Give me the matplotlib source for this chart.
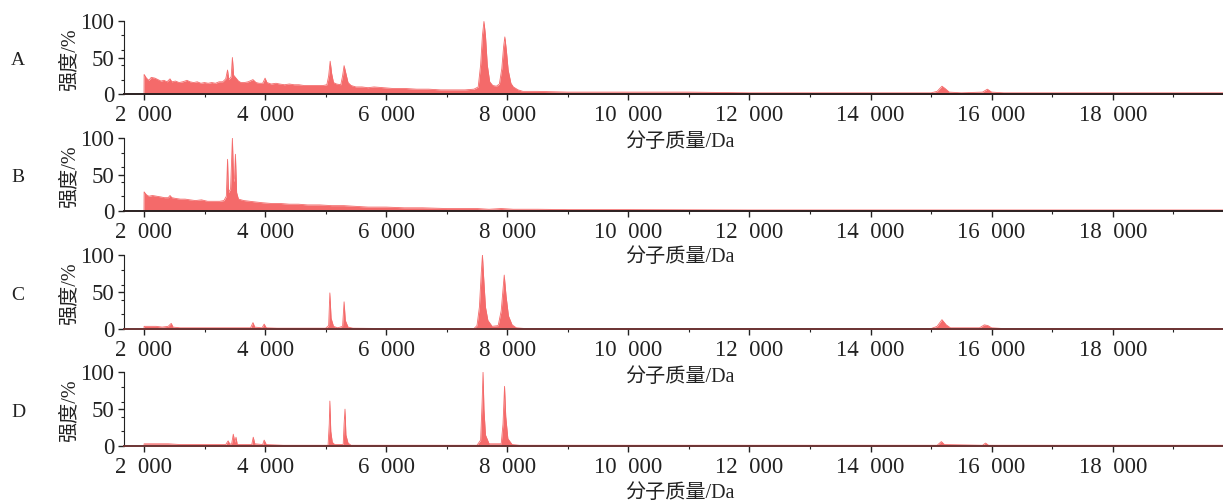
import matplotlib
matplotlib.use("Agg")
import matplotlib.pyplot as plt
from matplotlib.ticker import MultipleLocator, FuncFormatter

plt.rcParams['font.family'] = ['Liberation Serif', 'Noto Sans CJK SC']

# spectra: mass (Da) and relative intensity (%)
mass_a = [2000, 2002, 2040, 2080, 2120, 2180, 2230, 2280, 2330, 2380, 2430, 2460, 2520, 2580,
          2640, 2710, 2760, 2820, 2880, 2940, 3000, 3060, 3120, 3180, 3240, 3300, 3350, 3380,
          3400, 3440, 3460, 3480, 3520, 3560, 3600, 3660, 3720, 3800, 3850, 3900, 3960, 4000,
          4030, 4100, 4180, 4240, 4320, 4400, 4480, 4560, 4640, 4720, 4800, 4880, 4960, 5020,
          5050, 5075, 5100, 5130, 5180, 5250, 5280, 5305, 5330, 5370, 5420, 5500, 5600, 5700,
          5800, 5950, 6100, 6300, 6500, 6700, 6900, 7100, 7300, 7450, 7520, 7560, 7590, 7615,
          7640, 7670, 7710, 7760, 7820, 7870, 7910, 7940, 7960, 7985, 8015, 8060, 8100, 8180,
          8260, 8500, 9000, 9500, 10000, 11000, 12000, 13000, 14000, 15000, 15100, 15180,
          15230, 15300, 15500, 15850, 15930, 16000, 16200, 17000, 18000, 19000, 19820]
int_a = [0, 27, 22, 19, 23, 22, 20, 18, 19, 17, 21, 17, 18, 16,
         17, 19, 17, 16, 17, 15, 16, 15, 16, 15, 17, 17, 21, 33,
         20, 24, 50, 26, 22, 18, 16, 16, 17, 20, 16, 15, 15, 22,
         16, 14, 15, 14, 13, 14, 13, 13, 12, 12, 12, 12, 12, 13,
         25, 45, 28, 16, 14, 13, 25, 39, 30, 16, 12, 10, 10, 9,
         10, 9, 8, 8, 7, 7, 6, 6, 6, 7, 10, 40, 80, 99,
         80, 40, 17, 12, 11, 14, 35, 65, 78, 60, 33, 15, 10, 6,
         4, 4, 3, 3, 3, 3, 2, 2, 2, 2, 4, 11,
         8, 3, 2, 3, 7, 3, 2, 2, 2, 2, 2]

mass_b = [2000, 2002, 2040, 2080, 2140, 2210, 2280, 2340, 2400, 2430, 2460, 2520, 2600, 2680,
          2760, 2850, 2950, 3050, 3150, 3250, 3320, 3360, 3380, 3395, 3430, 3460, 3480, 3495,
          3510, 3530, 3560, 3650, 3750, 3850, 3960, 4100, 4250, 4400, 4550, 4700, 4900, 5100,
          5300, 5500, 5700, 6000, 6300, 6600, 7000, 7500, 7700, 7900, 8100, 8500, 9000, 10000,
          12000, 14000, 16000, 18000, 19820]
int_b = [0, 26, 22, 20, 21, 20, 19, 18, 18, 21, 18, 17, 16, 16,
         15, 14, 15, 13, 13, 13, 14, 20, 71, 25, 30, 100, 40, 45,
         78, 25, 16, 14, 13, 12, 11, 10, 10, 9, 9, 8, 8, 7,
         7, 6, 5, 5, 4, 4, 3, 3, 2, 3, 2, 2, 1.5, 1.5,
         1, 1, 1, 1, 1]

mass_c = [2000, 2002, 2100, 2200, 2300, 2400, 2450, 2480, 2600, 2800, 3000, 3200, 3400, 3600,
          3760, 3800, 3830, 3950, 3985, 4020, 4200, 4600, 5000, 5050, 5070, 5090, 5130, 5200,
          5280, 5305, 5325, 5370, 5450, 6000, 7000, 7450, 7500, 7540, 7570, 7590, 7610, 7640,
          7680, 7750, 7850, 7900, 7950, 7980, 8020, 8080, 8150, 8300, 10000, 15000, 15100,
          15180, 15250, 15320, 15800, 15880, 15940, 16000, 16200, 19820]
int_c = [0, 4, 4, 4, 3, 4, 8, 3, 2, 2, 2, 2, 2, 2,
         2, 9, 3, 2, 7, 2, 1.5, 1.5, 1.5, 5, 49, 15, 4, 2,
         4, 37, 12, 3, 1.5, 1, 1, 1, 5, 30, 75, 100, 70, 30,
         12, 4, 5, 25, 73, 45, 18, 6, 2, 1, 1, 1, 4,
         13, 6, 2, 2, 6, 5, 2, 1, 1]

mass_d = [2000, 2002, 2200, 2400, 2600, 3000, 3350, 3390, 3420, 3450, 3475, 3500, 3520, 3540,
          3780, 3805, 3830, 3960, 3985, 4020, 4300, 5040, 5060, 5070, 5085, 5110, 5150, 5290,
          5305, 5320, 5335, 5370, 5420, 7500, 7560, 7585, 7600, 7615, 7640, 7700, 7900, 7930,
          7955, 7975, 8010, 8080, 8200, 15100, 15170, 15220, 15850, 15900, 15950, 19820]
int_d = [0, 3, 3, 3, 2, 2, 2, 7, 2, 4, 16, 5, 12, 2,
         2, 12, 3, 2, 8, 2, 1, 1, 30, 61, 20, 5, 2, 2,
         30, 50, 15, 4, 1, 1, 8, 60, 100, 50, 15, 3, 3, 30,
         81, 40, 10, 2, 1, 1, 6, 2, 1, 4, 1, 1]

panels = [("A", mass_a, int_a), ("B", mass_b, int_b), ("C", mass_c, int_c), ("D", mass_d, int_d)]
# axes rectangles (left, bottom, width, height) in figure fractions
rects = [(0.1014, 0.8125, 0.8986, 0.1463),
         (0.1014, 0.5811, 0.8986, 0.1439),
         (0.1014, 0.3453, 0.8986, 0.1477),
         (0.1014, 0.1133, 0.8986, 0.1465)]
base_colors = ['#2b2020', '#2b2020', '#6b3434', '#6b3434']

fill_color = '#f46a6a'

fig = plt.figure(figsize=(12.23, 5.03), dpi=100)

for (name, m, y), r, bc in zip(panels, rects, base_colors):
    ax = fig.add_axes(r)
    ax.fill_between(m, 0, y, color=fill_color, lw=0)
    ax.plot(m, y, color=fill_color, lw=0.6)
    ax.set_xlim(1670, 19822)
    ax.set_ylim(0, 100)
    ax.spines['top'].set_visible(False)
    ax.spines['right'].set_visible(False)
    ax.spines['left'].set_bounds(0, 100)
    ax.spines['left'].set_color('#222222')
    ax.spines['bottom'].set_color(bc)
    ax.spines['bottom'].set_linewidth(1.4)
    ax.spines['bottom'].set_zorder(5)
    ax.set_xticks([2000, 4000, 6000, 8000, 10000, 12000, 14000, 16000, 18000])
    ax.xaxis.set_minor_locator(MultipleLocator(1000))
    ax.xaxis.set_major_formatter(FuncFormatter(lambda v, p: f"{int(v):,}".replace(',', '  ')))
    ax.yaxis.set_major_locator(MultipleLocator(50))
    ax.yaxis.set_minor_locator(MultipleLocator(20))
    ax.tick_params(axis='both', which='major', labelsize=16.5, length=4, width=1, colors='#222222', pad=3)
    ax.tick_params(axis='x', which='major', pad=4)
    ax.tick_params(axis='both', which='minor', length=2.5, width=0.8, colors='#222222')
    ax.set_xlabel("分子质量/Da", fontsize=14.5, color='#222222')
    ax.xaxis.set_label_coords(0.506, -0.52)
    ax.patch.set_alpha(0)

    yc = r[1] + r[3] / 2
    fig.text(70 / 1223, yc - 0.004, "强度/%", rotation=90, ha='center', va='center', fontsize=14.5, color='#222222')
    fig.text(18 / 1223, yc - 0.006, name, ha='center', va='center', fontsize=14, color='#222222')

fig.savefig("out.png", dpi=100)
